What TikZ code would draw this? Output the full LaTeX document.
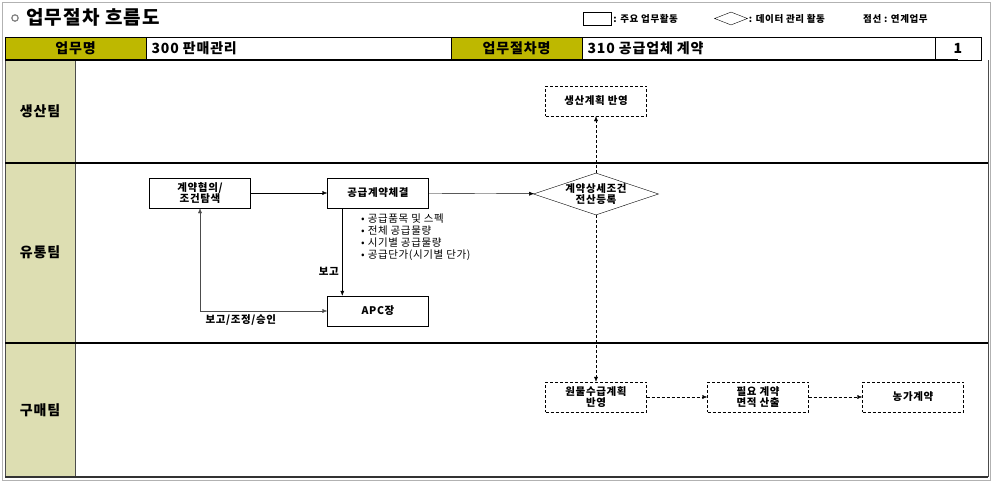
\documentclass[tikz,border=0pt]{standalone}
\usepackage{fontspec}
\setmainfont{Noto Sans CJK KR}[LetterSpace=6]
\usetikzlibrary{arrows.meta,shapes.geometric,positioning}
\definecolor{hdolive}{RGB}{190,184,0}
\definecolor{lanebg}{RGB}{221,222,178}
\begin{document}
\begin{tikzpicture}[x=1pt,y=-1pt,
    box/.style={draw,minimum width=101pt,minimum height=30pt,inner sep=1pt,align=center,
        font=\fontsize{10.5}{11.5}\selectfont\bfseries},
    dbox/.style={box,densely dashed},
    dia/.style={diamond,draw,aspect=3,minimum width=125pt,minimum height=42pt,inner sep=-6pt,
        align=center,font=\fontsize{10.5}{11.5}\selectfont\bfseries},
    arr/.style={-{Latex[length=5pt,width=4pt]}},
    darr/.style={arr,densely dashed},
    hdtxt/.style={font=\fontsize{14}{16}\selectfont\bfseries},
    lbl/.style={font=\fontsize{10.5}{12}\selectfont\bfseries},
    lgtxt/.style={font=\fontsize{9.5}{10}\selectfont\bfseries,inner sep=1pt}]
    \useasboundingbox (0,0) rectangle (993,483);
    % frame
    \draw[gray!60,line width=1pt] (2,2) rectangle (990,480);
    % title and legend
    \draw[gray,line width=1.2pt] (15,18) circle(3.2);
    \node[anchor=west,inner sep=0,font=\fontsize{19}{21}\selectfont\bfseries] (title) at (26,17) {업무절차 흐름도};
    \node[draw,minimum width=28pt,minimum height=13pt,inner sep=0] (lgbox) at (597,18.5) {};
    \node[lgtxt,right=1pt of lgbox] (lgboxtxt) {: 주요 업무활동};
    \node[diamond,draw,aspect=2.5,minimum width=33pt,minimum height=13pt,inner sep=0] (lgdia) at (731,18.5) {};
    \node[lgtxt,right=0pt of lgdia] (lgdiatxt) {: 데이터 관리 활동};
    \node[lgtxt,anchor=west] (lgline) at (862,18.5) {점선 : 연계업무};
    % header row
    \draw[fill=hdolive] (5,37) rectangle (146,60) (451,37) rectangle (582,60);
    \draw (146,37) rectangle (451,60) (582,37) rectangle (935,60) (935,37) rectangle (981,60);
    \node[hdtxt] (hdname) at (75.5,48.5) {업무명};
    \node[hdtxt,anchor=west] (hdnameval) at (148,48.5) {300 판매관리};
    \node[hdtxt] (hdproc) at (516.5,48.5) {업무절차명};
    \node[hdtxt,anchor=west] (hdprocval) at (584,48.5) {310 공급업체 계약};
    \node[hdtxt] (hdno) at (958,48.5) {1};
    % lanes
    \fill[lanebg] (5,60) rectangle (75,476);
    \draw[black!70,line width=1pt] (5,60)--(5,476) (75,60)--(75,476) (988,60)--(988,477);
    \draw[line width=1.5pt] (5,60)--(958,60) (5,163)--(988,163) (5,343)--(988,343);
    \draw[black!80,line width=1.2pt] (5,477)--(988,477);
    \foreach \y/\lane in {111/생산팀,252/유통팀,410/구매팀}
        \node[hdtxt] at (40,\y) {\lane};
    % steps
    \node[box] (hyup) at (200,193) {계약협의/\\조건탐색};
    \node[box] (gonggeup) at (378,193) {공급계약체결};
    \node[dia] (jeonsan) at (596,194) {계약상세조건\\전산등록};
    \node[dbox] (saengsan) at (596,101) {생산계획 반영};
    \node[box] (apc) at (378,311) {APC장};
    \node[dbox] (wonmul) at (596,397) {원물수급계획\\반영};
    \node[dbox] (myeonjeok) at (758,397) {필요 계약\\면적 산출};
    \node[dbox] (nongga) at (913,397) {농가계약};
    \node[anchor=north west,align=left,inner sep=0,font=\fontsize{10.5}{12}\selectfont] (spec) at (361,214)
        {• 공급품목 및 스펙\\• 전체 공급물량\\• 시기별 공급물량\\• 공급단가(시기별 단가)};
    % connectors
    \draw[arr] (hyup) -- (gonggeup);
    \draw[arr] (gonggeup) -- (jeonsan);
    \draw[darr] (jeonsan) -- (saengsan);
    \draw[darr] (jeonsan) -- (wonmul);
    \draw[darr] (wonmul) -- (myeonjeok);
    \draw[darr] (myeonjeok) -- (nongga);
    \draw[arr] ([xshift=15pt]gonggeup.south west) -- node[pos=0.72,left,lbl] (bogo) {보고} ([xshift=15pt]apc.north west);
    \draw[black!70,{Latex[length=5pt,width=4pt]}-{Latex[length=5pt,width=4pt]}] (hyup.south) |- node[pos=0.66,below=0pt,lbl,black] (seungin) {보고/조정/승인} (apc.west);
\end{tikzpicture}
\end{document}
